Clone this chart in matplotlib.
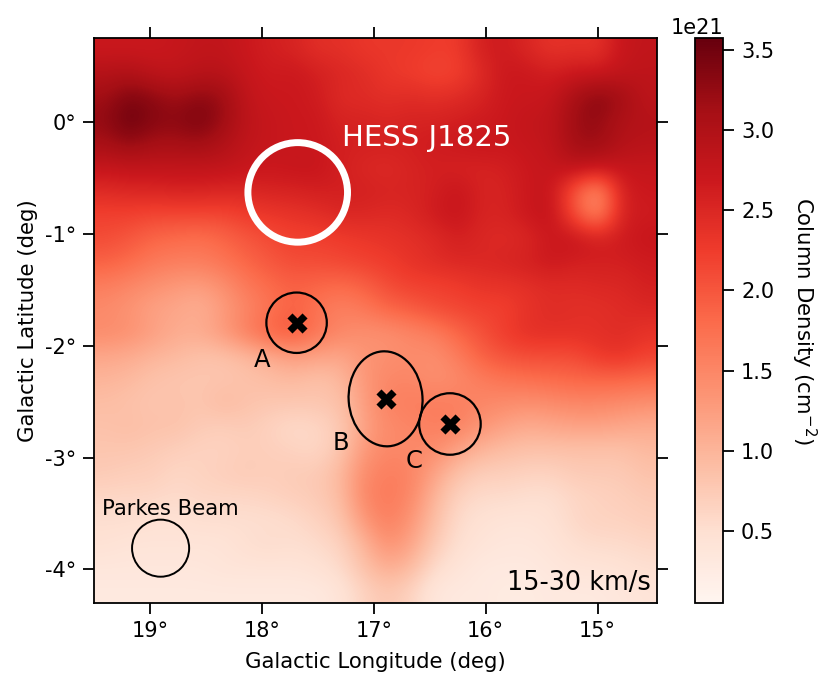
import numpy as np
import matplotlib
matplotlib.use("Agg")
import matplotlib.pyplot as plt
from matplotlib.patches import Circle, Ellipse

# column density estimates, 1e21 cm^-2, top row first, left to right in the picture
row_00 = [2.70, 2.70, 2.70, 2.75, 2.80, 2.80, 2.70, 2.60, 2.55, 2.40, 2.40, 2.30, 2.30, 2.30, 2.25, 2.25, 2.60, 2.65, 2.50, 2.35, 2.40, 2.35, 2.75, 2.80]
row_01 = [2.95, 3.00, 2.85, 2.80, 2.90, 2.90, 2.75, 2.65, 2.70, 2.60, 2.50, 2.45, 2.30, 2.25, 2.15, 2.20, 2.45, 2.70, 2.70, 2.60, 2.70, 2.70, 2.80, 2.85]
row_02 = [3.15, 3.40, 3.30, 3.15, 3.30, 3.20, 2.80, 2.70, 2.70, 2.65, 2.45, 2.45, 2.40, 2.45, 2.40, 2.45, 2.55, 2.70, 2.70, 2.75, 3.10, 3.35, 3.15, 2.85]
row_03 = [3.25, 3.55, 3.35, 3.30, 3.45, 3.20, 2.85, 2.75, 2.70, 2.70, 2.55, 2.55, 2.50, 2.55, 2.55, 2.60, 2.65, 2.70, 2.80, 2.80, 3.20, 3.25, 3.00, 2.95]
row_04 = [3.10, 3.25, 3.10, 3.10, 3.15, 3.00, 2.80, 2.75, 2.70, 2.70, 2.60, 2.60, 2.60, 2.60, 2.65, 2.70, 2.75, 2.70, 2.75, 2.80, 3.15, 3.20, 2.95, 2.90]
row_05 = [2.75, 2.80, 2.80, 2.80, 2.80, 2.80, 2.75, 2.70, 2.75, 2.75, 2.60, 2.50, 2.45, 2.55, 2.60, 2.55, 2.55, 2.60, 2.70, 2.75, 2.85, 2.75, 2.75, 2.75]
row_06 = [2.45, 2.50, 2.50, 2.55, 2.55, 2.50, 2.50, 2.55, 2.55, 2.60, 2.60, 2.60, 2.55, 2.55, 2.60, 2.75, 2.55, 2.55, 2.70, 2.75, 1.95, 1.35, 2.60, 2.70]
row_07 = [2.20, 2.20, 2.15, 2.15, 2.15, 2.15, 2.25, 2.30, 2.35, 2.40, 2.50, 2.50, 2.45, 2.50, 2.65, 2.75, 2.55, 2.55, 2.70, 2.80, 2.05, 1.45, 2.60, 2.65]
row_08 = [2.10, 2.00, 1.85, 1.80, 1.75, 1.85, 2.00, 2.10, 2.20, 2.20, 2.25, 2.30, 2.35, 2.40, 2.45, 2.60, 2.50, 2.45, 2.50, 2.70, 2.75, 2.60, 2.65, 2.75]
row_09 = [1.90, 1.80, 1.65, 1.60, 1.60, 1.70, 1.85, 2.00, 2.10, 2.10, 2.15, 2.20, 2.25, 2.35, 2.45, 2.50, 2.50, 2.55, 2.60, 2.70, 2.60, 2.60, 2.60, 2.65]
row_10 = [1.60, 1.50, 1.40, 1.30, 1.25, 1.40, 1.65, 1.80, 1.90, 1.85, 1.80, 1.90, 2.10, 2.20, 2.20, 2.25, 2.35, 2.35, 2.40, 2.45, 2.45, 2.50, 2.50, 2.60]
row_11 = [1.45, 1.35, 1.20, 1.15, 1.05, 1.25, 1.50, 1.70, 1.90, 1.70, 1.55, 1.65, 1.85, 1.95, 2.10, 2.15, 2.20, 2.20, 2.35, 2.45, 2.40, 2.40, 2.45, 2.50]
row_12 = [1.45, 1.40, 1.25, 1.10, 1.10, 1.30, 1.60, 1.90, 2.00, 1.70, 1.50, 1.40, 1.40, 1.50, 1.60, 1.85, 2.05, 2.25, 2.40, 2.40, 2.40, 2.40, 2.45, 2.35]
row_13 = [1.15, 1.10, 1.00, 0.95, 0.85, 0.85, 0.95, 1.10, 1.25, 1.20, 1.15, 1.35, 1.40, 1.45, 1.40, 1.60, 1.90, 2.05, 2.10, 2.10, 2.10, 2.30, 2.35, 2.20]
row_14 = [1.00, 0.95, 0.85, 0.80, 0.80, 0.80, 0.85, 0.90, 0.95, 0.85, 0.95, 1.30, 1.50, 1.50, 1.40, 1.45, 1.60, 1.70, 1.75, 1.80, 1.85, 1.85, 1.85, 1.80]
row_15 = [0.90, 0.85, 0.80, 0.85, 0.80, 0.95, 0.85, 0.80, 0.80, 0.80, 0.85, 1.25, 1.55, 1.60, 1.60, 1.60, 1.50, 1.45, 1.40, 1.45, 1.50, 1.50, 1.45, 1.40]
row_16 = [0.85, 0.90, 0.85, 0.85, 0.75, 0.70, 0.75, 0.65, 0.55, 0.60, 0.75, 1.20, 1.45, 1.50, 1.60, 1.55, 1.35, 1.20, 1.10, 1.15, 1.20, 1.20, 1.15, 1.10]
row_17 = [0.80, 0.80, 0.75, 0.70, 0.65, 0.65, 0.70, 0.70, 0.65, 0.60, 0.80, 1.30, 1.50, 1.45, 1.45, 1.20, 1.00, 0.90, 0.85, 0.85, 0.85, 0.85, 0.85, 0.95]
row_18 = [0.75, 0.70, 0.70, 0.60, 0.65, 0.70, 0.75, 0.70, 0.75, 0.75, 0.95, 1.45, 1.60, 1.55, 1.20, 0.85, 0.70, 0.70, 0.65, 0.65, 0.75, 0.75, 0.75, 0.85]
row_19 = [0.60, 0.60, 0.60, 0.55, 0.60, 0.60, 0.60, 0.65, 0.70, 0.75, 0.90, 1.50, 1.65, 1.50, 1.00, 0.65, 0.55, 0.55, 0.50, 0.50, 0.60, 0.65, 0.70, 0.75]
row_20 = [0.50, 0.50, 0.45, 0.45, 0.50, 0.50, 0.50, 0.50, 0.55, 0.65, 0.80, 1.30, 1.60, 1.35, 0.90, 0.55, 0.45, 0.40, 0.40, 0.45, 0.60, 0.65, 0.65, 0.70]
row_21 = [0.45, 0.40, 0.40, 0.40, 0.40, 0.40, 0.50, 0.55, 0.50, 0.55, 0.65, 1.00, 1.40, 1.20, 0.75, 0.50, 0.40, 0.35, 0.35, 0.40, 0.50, 0.55, 0.55, 0.60]
row_22 = [0.35, 0.35, 0.35, 0.35, 0.35, 0.40, 0.40, 0.40, 0.40, 0.45, 0.55, 0.85, 1.10, 0.95, 0.55, 0.40, 0.30, 0.30, 0.30, 0.35, 0.40, 0.40, 0.45, 0.50]
row_23 = [0.30, 0.30, 0.30, 0.30, 0.30, 0.30, 0.30, 0.30, 0.30, 0.30, 0.40, 0.65, 0.80, 0.65, 0.35, 0.30, 0.30, 0.25, 0.25, 0.30, 0.30, 0.30, 0.35, 0.40]

# objects
hess_l, hess_b, hess_r = 17.68, -0.63, 0.445
src_names = ["A", "B", "C"]
src_l = [17.69, 16.895, 16.32]
src_b = [-1.795, -2.475, -2.70]
beam_l, beam_b, beam_r = 18.905, -3.81, 0.255

lon_ticks = [19, 18, 17, 16, 15]
lat_ticks = [0, -1, -2, -3, -4]
cbar_ticks = [0.5e21, 1.0e21, 1.5e21, 2.0e21, 2.5e21, 3.0e21, 3.5e21]

grid = np.array([row_00, row_01, row_02, row_03, row_04, row_05, row_06, row_07,
                 row_08, row_09, row_10, row_11, row_12, row_13, row_14, row_15,
                 row_16, row_17, row_18, row_19, row_20, row_21, row_22, row_23]) * 1e21

fig = plt.figure(figsize=(8.3, 6.86), dpi=100)
ax = fig.add_axes([94 / 830, 1 - 603 / 686, 563 / 830, 565 / 686])

im = ax.imshow(grid, cmap="Reds", vmin=0.05e21, vmax=3.575e21, origin="upper",
               extent=[19.5, 14.47, -4.3, 0.75], aspect="auto", interpolation="bicubic")

ax.add_patch(Circle((hess_l, hess_b), hess_r, fill=False, ec="white", lw=5))
ax.add_patch(Ellipse((src_l[0], src_b[0]), 0.54, 0.54, fill=False, ec="black", lw=1.6))
ax.add_patch(Ellipse((src_l[1], src_b[1]), 0.66, 0.85, angle=-4, fill=False, ec="black", lw=1.6))
ax.add_patch(Ellipse((src_l[2], src_b[2]), 0.55, 0.55, fill=False, ec="black", lw=1.6))
ax.add_patch(Circle((beam_l, beam_b), beam_r, fill=False, ec="black", lw=1.4))
ax.scatter(src_l, src_b, marker="X", s=210, c="black", linewidths=0, zorder=5)

ax.text(17.28, -0.14, "HESS J1825", color="white", fontsize=21, ha="left", va="center")
ax.text(18.0, -2.13, src_names[0], fontsize=17.5, ha="center", va="center")
ax.text(17.29, -2.87, src_names[1], fontsize=17.5, ha="center", va="center")
ax.text(16.64, -3.03, src_names[2], fontsize=17.5, ha="center", va="center")
ax.text(18.82, -3.46, "Parkes Beam", fontsize=15.2, ha="center", va="center")
ax.text(14.53, -4.12, "15-30 km/s", fontsize=18.4, ha="right", va="center")

ax.set_xticks(lon_ticks)
ax.set_xticklabels([f"{v}°" for v in lon_ticks])
ax.set_yticks(lat_ticks)
ax.set_yticklabels([f"{v}°" for v in lat_ticks])
ax.tick_params(axis="both", direction="out", length=8, width=1.3, labelsize=15,
               top=True, right=True, pad=5)
ax.set_xlabel("Galactic Longitude (deg)", fontsize=15.3, labelpad=8)
ax.set_ylabel("Galactic Latitude (deg)", fontsize=15.3, labelpad=5)
for s in ax.spines.values():
    s.set_linewidth(1.3)

cax = fig.add_axes([695 / 830, 1 - 603 / 686, 28 / 830, 565 / 686])
cb = fig.colorbar(im, cax=cax, ticks=cbar_ticks)
cb.ax.tick_params(labelsize=15, length=8, width=1.3, pad=5)
cb.ax.yaxis.get_offset_text().set_fontsize(15)
cb.outline.set_linewidth(1.3)
cb.set_label("Column Density (cm$^{-2}$)", fontsize=15.3, rotation=270, labelpad=32)

fig.savefig("out.png", dpi=100)
